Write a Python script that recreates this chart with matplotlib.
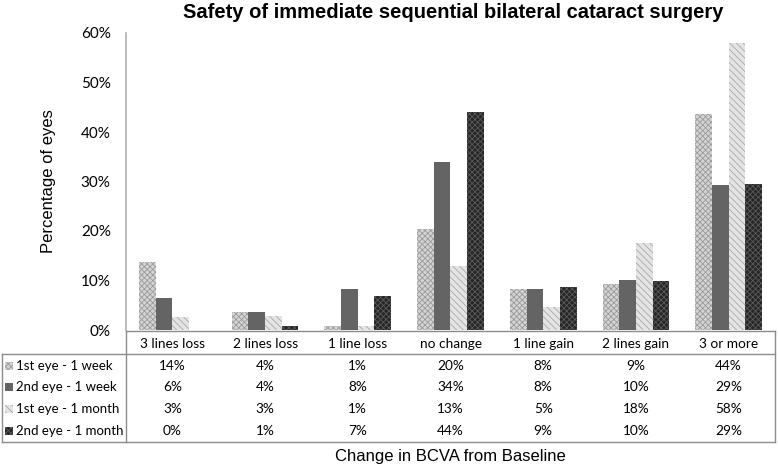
import numpy as np
import matplotlib.pyplot as plt
from matplotlib.patches import Rectangle
from matplotlib.lines import Line2D

categories = ['3 lines loss', '2 lines loss', '1 line loss', 'no change',
              '1 line gain', '2 lines gain', '3 or more']
series = ['1st eye - 1 week', '2nd eye - 1 week',
          '1st eye - 1 month', '2nd eye - 1 month']

# bar heights (percent)
eye1_week = [13.7, 3.6, 0.8, 20.4, 8.2, 9.2, 43.6]
eye2_week = [6.4, 3.6, 8.2, 33.9, 8.2, 10.1, 29.2]
eye1_month = [2.7, 2.8, 0.8, 12.9, 4.6, 17.6, 58.0]
eye2_month = [0.0, 0.9, 6.8, 44.0, 8.7, 9.8, 29.4]

# numbers printed in the data table
lbl_eye1_week = ['14%', '4%', '1%', '20%', '8%', '9%', '44%']
lbl_eye2_week = ['6%', '4%', '8%', '34%', '8%', '10%', '29%']
lbl_eye1_month = ['3%', '3%', '1%', '13%', '5%', '18%', '58%']
lbl_eye2_month = ['0%', '1%', '7%', '44%', '9%', '10%', '29%']

values = [eye1_week, eye2_week, eye1_month, eye2_month]
labels = [lbl_eye1_week, lbl_eye2_week, lbl_eye1_month, lbl_eye2_month]

styles = [
    dict(facecolor='#d4d4d4', edgecolor='#9a9a9a', hatch='xxxxxx'),
    dict(facecolor='#646464', edgecolor='#646464', hatch=None),
    dict(facecolor='#e4e4e4', edgecolor='#a8a8a8', hatch='\\\\\\\\\\'),
    dict(facecolor='#262626', edgecolor='#5a5a5a', hatch='xxxxxx'),
]

plt.rcParams['hatch.linewidth'] = 0.6
tbl_font = ['Lato', 'DejaVu Sans']
arial = ['Liberation Sans', 'DejaVu Sans']

W, H = 778, 467
fig = plt.figure(figsize=(W / 100, H / 100), dpi=100)
x0, x1, y0, y1 = 126, 775, 330, 33
ax = fig.add_axes([x0 / W, 1 - y0 / H, (x1 - x0) / W, (y0 - y1) / H])

x = np.arange(len(categories))
bw = 0.18
for i, (vals, st) in enumerate(zip(values, styles)):
    ax.bar(x + (i - 1.5) * bw, vals, bw, linewidth=0, **st)

ax.set_xlim(-0.5, len(categories) - 0.5)
ax.set_ylim(0, 60)
ax.set_yticks(range(0, 61, 10))
ax.set_yticklabels([f'{v}%' for v in range(0, 61, 10)], family=tbl_font, fontsize=11)
ax.tick_params(axis='y', length=0, pad=11)
ax.set_xticks([])
for s in ['top', 'right', 'bottom']:
    ax.spines[s].set_visible(False)
ax.spines['left'].set_color('#b0b0b0')
ax.spines['left'].set_linewidth(1.2)

ax.set_ylabel('Percentage of eyes', family=arial, fontsize=12, labelpad=18)
fig.text(453 / W, 1 - 13 / H, 'Safety of immediate sequential bilateral cataract surgery',
         ha='center', va='center', fontsize=14.5, fontweight='bold', family=arial)


def fy(py):
    return 1 - py / H


def fx(px):
    return px / W


# data table under the axes
lc = '#8c8c8c'
for xa, xb, yy in [(126, 775, 331), (2, 775, 354), (2, 775, 442)]:
    fig.add_artist(Line2D([fx(xa), fx(xb)], [fy(yy), fy(yy)], color=lc, lw=1))
for xx, ya in [(2, 354), (126, 331), (775, 331)]:
    fig.add_artist(Line2D([fx(xx), fx(xx)], [fy(ya), fy(442)], color=lc, lw=1))

fs = 9.8
hdr_y = fy(344)
row_y = [fy(366), fy(387), fy(409), fy(431)]
col_w = (x1 - x0) / len(categories)
for xi, cat in zip(x, categories):
    fig.text(fx(x0 + (xi + 0.5) * col_w), hdr_y, cat,
             ha='center', va='center', fontsize=fs, family=tbl_font)
for r, (name, lbls, st) in enumerate(zip(series, labels, styles)):
    fig.add_artist(Rectangle((fx(5), row_y[r] - 4 / H), 8 / W, 8 / H,
                             linewidth=0, transform=fig.transFigure, **st))
    fig.text(fx(16), row_y[r], name, ha='left', va='center',
             fontsize=9.5, family=tbl_font)
    for xi, lb in zip(x, lbls):
        fig.text(fx(x0 + (xi + 0.5) * col_w), row_y[r], lb,
                 ha='center', va='center', fontsize=fs, family=tbl_font)

fig.text(fx(450), fy(456), 'Change in BCVA from Baseline', ha='center', va='center',
         fontsize=12, family=arial)

fig.savefig('out.png', dpi=100)
